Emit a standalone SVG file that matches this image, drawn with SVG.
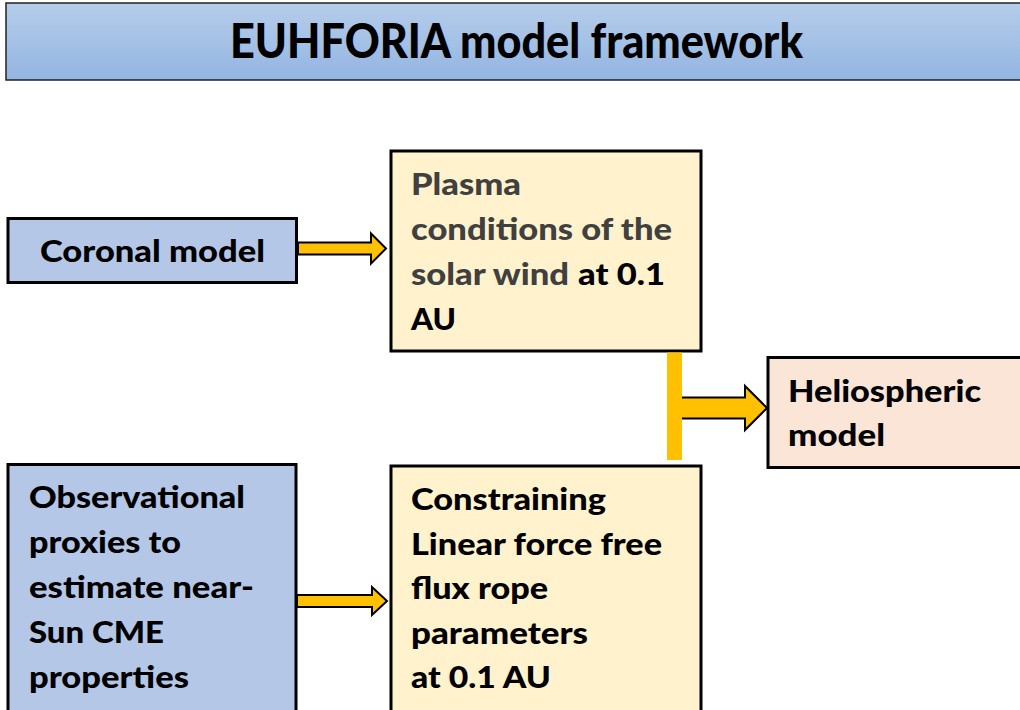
<svg xmlns="http://www.w3.org/2000/svg" width="1020" height="710" viewBox="0 0 1020 710">
<defs>
<linearGradient id="titleGrad" x1="0" y1="0" x2="0" y2="1">
<stop offset="0" stop-color="#b6cdea"/>
<stop offset="1" stop-color="#93b5e2"/>
</linearGradient>
<style>
.box{stroke:#000;stroke-width:3}
.blue{fill:#b4c7e7}
.yellow{fill:#fff2cc}
.peach{fill:#fbe5d6}
.t{font-family:Lato,"Liberation Sans",sans-serif;font-weight:900;font-size:30px;fill:#000}
.g{fill:#404040}
.arrow{fill:#ffc000;stroke:#000;stroke-width:2;stroke-linejoin:miter}
</style>
</defs>
<rect width="1020" height="710" fill="#fff"/>
<g id="title">
<rect x="6" y="3" width="1020" height="77" fill="url(#titleGrad)" stroke="#222" stroke-width="1.5"/>
<text x="230" y="58" class="t" style="font-size:47px" textLength="573" lengthAdjust="spacingAndGlyphs">EUHFORIA model framework</text>
</g>
<g id="coronal">
<rect x="8" y="218.5" width="288.5" height="64" class="box blue"/>
<text x="40" y="262" class="t" textLength="225" lengthAdjust="spacingAndGlyphs">Coronal model</text>
</g>
<g id="plasma">
<rect x="391" y="151" width="310" height="200" class="box yellow"/>
<text x="411" y="195" class="t g" textLength="110" lengthAdjust="spacingAndGlyphs">Plasma</text>
<text x="411" y="240" class="t g" textLength="261" lengthAdjust="spacingAndGlyphs">conditions of the</text>
<text x="411" y="285" class="t g" textLength="158" lengthAdjust="spacingAndGlyphs">solar wind</text>
<text x="578" y="285" class="t" textLength="87" lengthAdjust="spacingAndGlyphs">at 0.1</text>
<text x="411" y="330" class="t" textLength="45" lengthAdjust="spacingAndGlyphs">AU</text>
</g>
<g id="heliospheric">
<rect x="768" y="357.5" width="260" height="110" class="box peach"/>
<text x="788" y="402" class="t" textLength="193" lengthAdjust="spacingAndGlyphs">Heliospheric</text>
<text x="788" y="446" class="t" textLength="97" lengthAdjust="spacingAndGlyphs">model</text>
</g>
<g id="observational">
<rect x="8" y="464.5" width="288" height="260" class="box blue"/>
<text x="29" y="508" class="t" textLength="216" lengthAdjust="spacingAndGlyphs">Observational</text>
<text x="29" y="553" class="t" textLength="152" lengthAdjust="spacingAndGlyphs">proxies to</text>
<text x="29" y="598" class="t" textLength="225" lengthAdjust="spacingAndGlyphs">estimate near-</text>
<text x="29" y="643" class="t" textLength="135" lengthAdjust="spacingAndGlyphs">Sun CME</text>
<text x="29" y="688" class="t" textLength="160" lengthAdjust="spacingAndGlyphs">properties</text>
</g>
<g id="constraining">
<rect x="391" y="466" width="310" height="260" class="box yellow"/>
<text x="411" y="510" class="t" textLength="195" lengthAdjust="spacingAndGlyphs">Constraining</text>
<text x="411" y="555" class="t" textLength="251" lengthAdjust="spacingAndGlyphs">Linear force free</text>
<text x="411" y="599" class="t" textLength="137" lengthAdjust="spacingAndGlyphs">flux rope</text>
<text x="411" y="644" class="t" textLength="177" lengthAdjust="spacingAndGlyphs">parameters</text>
<text x="411" y="688" class="t" textLength="140" lengthAdjust="spacingAndGlyphs">at 0.1 AU</text>
</g>
<g id="connectors">
<path class="arrow" d="M298,242.5 H371 V233.5 L386,248.5 L371,263.5 V254.5 H298 Z"/>
<path class="arrow" d="M297,595 H372 V587 L387,601 L372,615 V607 H297 Z"/>
<path class="arrow" d="M675,397.5 H745 V386 L767,408 L745,430 V418.5 H675 Z"/>
<rect x="667" y="352.5" width="15" height="107.5" fill="#ffc000"/>
</g>
</svg>
